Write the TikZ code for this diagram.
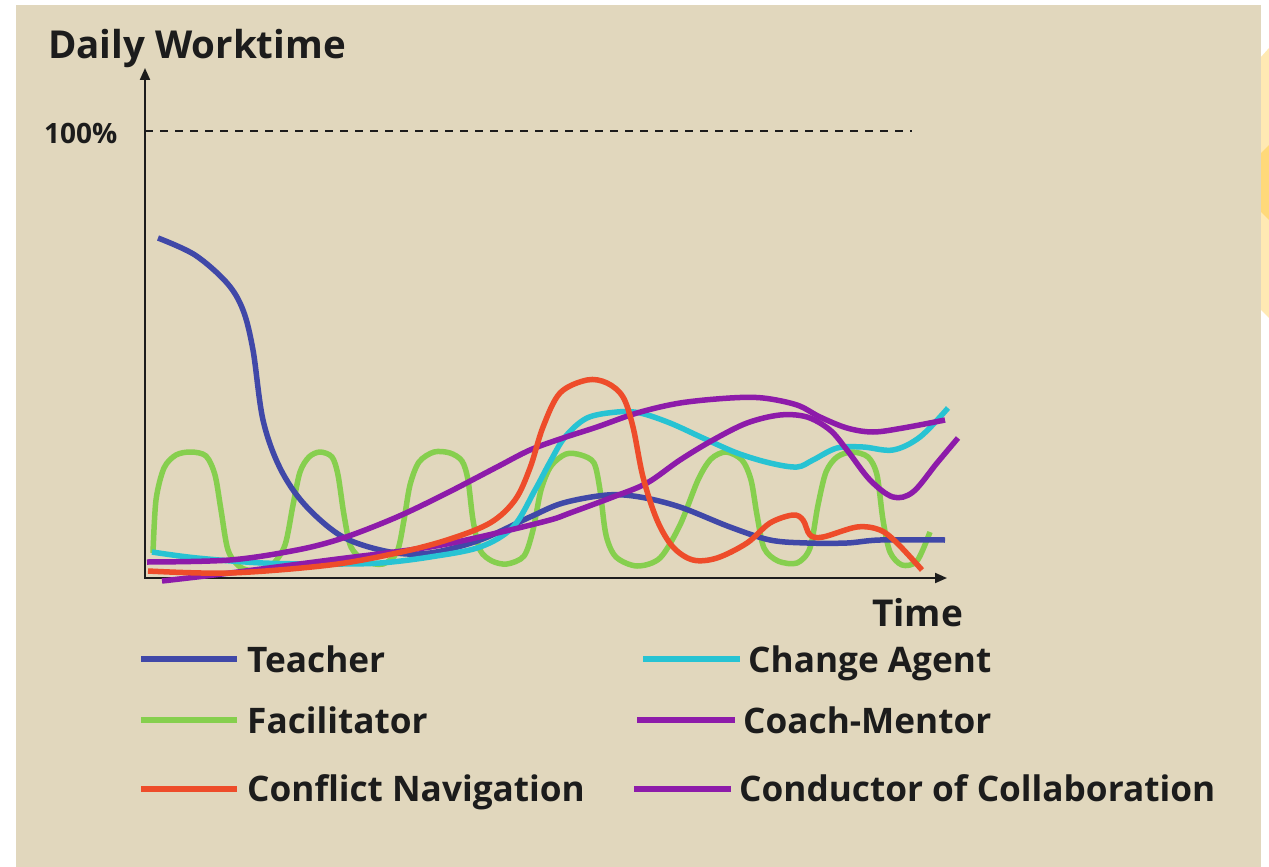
\documentclass[tikz,border=0pt]{standalone}
\usepackage{fontspec}
\setmainfont{Open Sans}
\usetikzlibrary{arrows.meta}
\definecolor{bg}{HTML}{E1D7BD}
\definecolor{ink}{HTML}{1C1C1C}
\definecolor{cteacher}{HTML}{4048A8}
\definecolor{cagent}{HTML}{27C3D3}
\definecolor{cfacil}{HTML}{86CF4E}
\definecolor{cpurple}{HTML}{8D1BAA}
\definecolor{cconflict}{HTML}{EE4C2A}
\definecolor{ylight}{HTML}{FFE9B3}
\definecolor{ydark}{HTML}{FFD97A}
\tikzset{
  curve/.style={line width=5.5pt, line join=round},
  legline/.style={line width=5.5pt},
  axis/.style={line width=2pt, draw=ink, -{Triangle[length=12pt,width=10pt]}},
  lbl/.style={font=\bfseries\fontsize{35.2}{40}\selectfont, text=ink, inner sep=0pt, anchor=base west},
}
\begin{document}
\begin{tikzpicture}[x=1pt,y=-1pt]
\useasboundingbox (0,0) rectangle (1269,867);
\fill[white] (0,0) rectangle (1269,867);
\fill[bg] (16,5) rectangle (1261,867);
\fill[ylight] (1261,57) -- (1269,48) -- (1269,318) -- (1261,310) -- cycle;
\fill[ydark] (1261,153) -- (1269,145) -- (1269,220) -- (1261,212) -- cycle;

% axes
\coordinate (O) at (145,578);
\coordinate (ytip) at (145,68);
\coordinate (xtip) at (947,578);
\coordinate (d1) at (145,131);
\coordinate (d2) at (912,131);
\draw[line width=2pt, draw=ink, dash pattern=on 8pt off 7pt] (d1) -- (d2);
\draw[axis] (O) -- (ytip);
\draw[axis] ([xshift=-1pt]O) -- (xtip);

\node[lbl, font=\bfseries\fontsize{38.5}{44}\selectfont] (title) at (48,59) {Daily Worktime};
\node[lbl, font=\bfseries\fontsize{28}{32}\selectfont] (hundred) at (44,143) {100\%};
\node[lbl, font=\bfseries\fontsize{37}{42}\selectfont] (time) at (872,626) {Time};

% curves
\draw[curve, cfacil] plot[smooth, tension=0.5] coordinates {
(153,553) (156,500) (164,468) (176,455) (191,452) (206,456) (215,475) (221,510) (228,550) (240,567) (256,571) (272,565) (285,545) (293,505) (300,472) (309,457) (320,452) (332,457) (338,475) (344,515) (351,547) (365,561) (383,564) (397,552) (404,520) (410,485) (419,462) (434,452) (450,453) (462,461) (468,480) (473,520) (480,550) (492,561) (507,564) (524,556) (533,530) (541,490) (551,466) (566,454) (581,455) (594,463) (600,490) (606,535) (616,557) (637,566) (660,558) (680,525) (698,480) (711,459) (726,452) (742,460) (751,480) (757,515) (764,548) (778,561) (797,563) (810,548) (818,505) (826,472) (837,457) (852,452) (868,457) (877,475) (883,520) (890,552) (902,565) (917,561) (930,532)};

\draw[curve, cteacher] plot[smooth, tension=0.55] coordinates {
(158,238) (195,255) (227,283) (243,310) (253,350) (263,420) (280,468) (305,505) (343,537) (390,552) (430,553) (480,540) (530,517) (563,503) (607,495) (640,497) (680,507) (730,527) (770,540) (807,543) (847,543) (880,540) (945,540)};

\draw[curve, cagent] plot[smooth, tension=0.55] coordinates {
(152,552) (197,558) (263,563) (330,564) (380,563) (430,557) (480,547) (513,527) (535,490) (550,462) (565,437) (587,418) (617,412) (640,413) (670,423) (703,438) (737,453) (770,463) (797,467) (813,460) (837,448) (863,447) (893,450) (920,437) (948,408)};

\draw[curve, cpurple] plot[smooth, tension=0.55] coordinates {
(162,581) (230,573) (330,560) (430,547) (497,533) (550,520) (570,513) (613,497) (647,483) (680,460) (713,440) (747,423) (780,415) (807,417) (830,430) (847,450) (870,480) (893,497) (913,492) (937,463) (958,438)};

\draw[curve, cpurple] plot[smooth, tension=0.55] coordinates {
(147,562) (230,560) (297,550) (343,538) (397,517) (447,493) (497,467) (530,450) (563,438) (597,427) (637,413) (680,403) (730,398) (763,398) (797,405) (820,417) (847,428) (873,432) (903,428) (945,420)};

\draw[curve, cconflict] plot[smooth, tension=0.55] coordinates {
(148,571) (230,573) (330,565) (397,553) (447,540) (490,523) (515,500) (530,468) (543,427) (560,393) (587,380) (607,383) (623,397) (633,427) (643,477) (657,520) (673,547) (693,560) (717,558) (747,543) (770,523) (793,515) (803,520) (810,535) (823,537) (857,527) (880,530) (897,543) (922,570)};

% legend
\node[lbl] (lTeacher) at (247,672) {Teacher};
\node[lbl] (lFacil) at (247,733) {Facilitator};
\node[lbl] (lConflict) at (247,801) {Conflict Navigation};
\node[lbl] (lAgent) at (748,672) {Change Agent};
\node[lbl] (lCoach) at (743,733) {Coach-Mentor};
\node[lbl] (lConductor) at (739,801) {Conductor of Collaboration};

\coordinate (a1) at (141,659); \coordinate (a2) at (237,659);
\coordinate (b1) at (141,720); \coordinate (b2) at (237,720);
\coordinate (c1) at (141,789); \coordinate (c2) at (237,789);
\coordinate (e1) at (643,659); \coordinate (e2) at (740,659);
\coordinate (f1) at (637,720); \coordinate (f2) at (735,720);
\coordinate (g1) at (634,789); \coordinate (g2) at (731,789);
\draw[legline, cteacher] (a1) -- (a2);
\draw[legline, cfacil] (b1) -- (b2);
\draw[legline, cconflict] (c1) -- (c2);
\draw[legline, cagent] (e1) -- (e2);
\draw[legline, cpurple] (f1) -- (f2);
\draw[legline, cpurple] (g1) -- (g2);
\end{tikzpicture}
\end{document}
